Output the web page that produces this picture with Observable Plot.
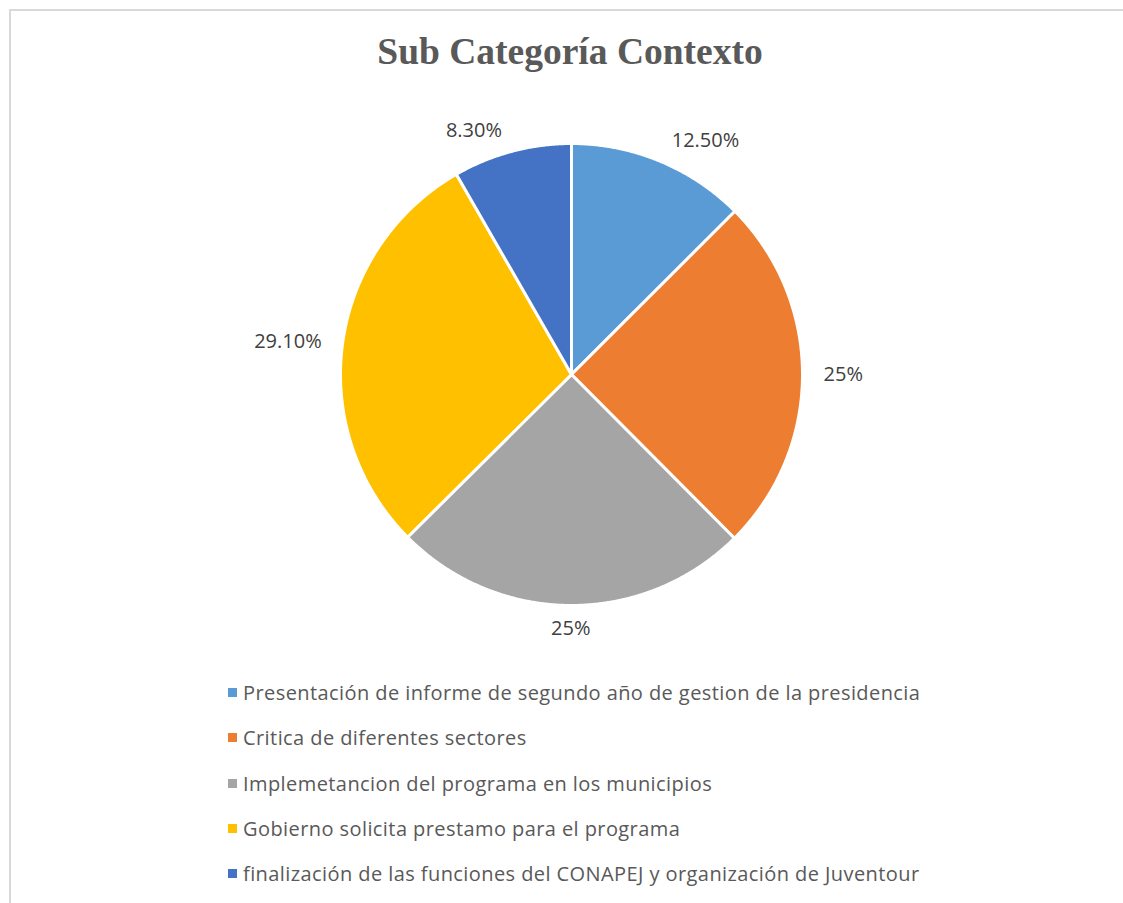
<!DOCTYPE html>
<html>
<head>
<meta charset="utf-8">
<script src="https://cdn.jsdelivr.net/npm/d3@7"></script>
<script src="https://cdn.jsdelivr.net/npm/@observablehq/plot@0.6"></script>
<style>
  html, body { margin: 0; padding: 0; background: #fff; overflow: hidden; width: 1123px; height: 903px; }
  #frame { position: absolute; left: 9px; top: 9px; width: 1300px; height: 1100px; border: 2px solid #d9d9d9; box-sizing: border-box; }
  #title { position: absolute; left: 0; width: 1140px; top: 27px; text-align: center; font-family: "Liberation Serif", "Times New Roman", serif; font-weight: bold; font-size: 37.5px; color: #595959; line-height: 50px; }
  #chart { position: absolute; left: 0; top: 0; }
  #legend { position: absolute; left: 228px; top: 0; font-family: "Open Sans", sans-serif; font-size: 20px; letter-spacing: 0.42px; color: #595959; }
  .item { position: absolute; white-space: nowrap; display: flex; align-items: center; height: 30px; }
  .sw { width: 9px; height: 9px; margin-right: 6px; }
</style>
</head>
<body>
<div id="frame"></div>
<div id="chart"></div>
<div id="title">Sub Categoría Contexto</div>
<div id="legend"></div>
<script>
const categories = [
  "Presentación de informe de segundo año de gestion de la presidencia",
  "Critica de diferentes sectores",
  "Implemetancion del programa en los municipios",
  "Gobierno solicita prestamo para el programa",
  "finalización de las funciones del CONAPEJ y organización de Juventour"
];
const values = [12.5, 25, 25, 29.1, 8.3];
const valueLabels = ["12.50%", "25%", "25%", "29.10%", "8.30%"];
const colors = ["#5B9BD5", "#ED7D31", "#A5A5A5", "#FFC000", "#4472C4"];

const W = 1123, H = 903;
const cx = 571, cy = 374, R = 231;

const pie = d3.pie().sort(null).value(d => d.value)(
  categories.map((c, i) => ({ name: c, value: values[i], label: valueLabels[i] }))
);

// polygon outlines in unit-circle data coordinates (y up), angle clockwise from top
const poly = [];
pie.forEach(p => {
  const name = p.data.name;
  poly.push({ name, x: 0, y: 0 });
  const n = Math.max(2, Math.ceil((p.endAngle - p.startAngle) / 0.005));
  for (let k = 0; k <= n; k++) {
    const a = p.startAngle + (p.endAngle - p.startAngle) * k / n;
    poly.push({ name, x: Math.sin(a), y: Math.cos(a) });
  }
  poly.push({ name, x: 0, y: 0 });
});

const lf = 1.065;
const labels = pie.map(p => {
  const a = (p.startAngle + p.endAngle) / 2;
  const x = Math.sin(a) * lf, y = Math.cos(a) * lf;
  return { label: p.data.label, x, y,
    ta: x > 0.15 ? "start" : x < -0.15 ? "end" : "middle",
    la: y > 0.35 ? "bottom" : y < -0.35 ? "top" : "middle" };
});

const textMarks = [];
for (const ta of ["start", "end", "middle"]) for (const la of ["bottom", "top", "middle"]) {
  const sub = labels.filter(d => d.ta === ta && d.la === la);
  if (sub.length) textMarks.push(Plot.text(sub, {
    x: "x", y: "y", text: "label", textAnchor: ta, lineAnchor: la,
    dx: ta === "start" ? 6 : ta === "end" ? -6 : 0,
    fontSize: 20, fill: "#404040", fontFamily: "Open Sans", letterSpacing: "0.4px"
  }));
}

const plot = Plot.plot({
  width: W, height: H,
  margin: 0,
  x: { domain: [-1, 1], range: [cx - R, cx + R], axis: null },
  y: { domain: [-1, 1], range: [cy + R, cy - R], axis: null },
  color: { domain: categories, range: colors },
  style: { background: "transparent", fontFamily: "Open Sans" },
  marks: [
    Plot.line(poly, { x: "x", y: "y", z: "name", fill: "name", stroke: "white", strokeWidth: 3, strokeLinejoin: "round" }),
    ...textMarks
  ]
});
document.getElementById("chart").appendChild(plot);

const legendTops = [692, 737.5, 783, 828, 873];
const legend = document.getElementById("legend");
categories.forEach((c, i) => {
  const d = document.createElement("div");
  d.className = "item";
  d.style.top = (legendTops[i] - 15) + "px";
  d.innerHTML = `<span class="sw" style="background:${colors[i]}"></span><span>${c}</span>`;
  legend.appendChild(d);
});
</script>
</body>
</html>
